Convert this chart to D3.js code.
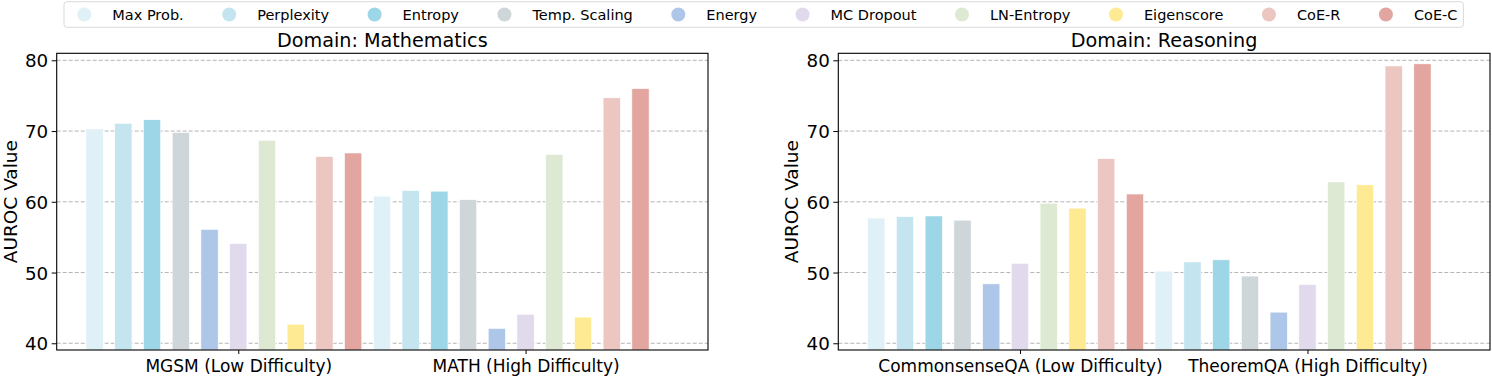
<!DOCTYPE html>
<html>
<head>
<meta charset="utf-8">
<script src="https://d3js.org/d3.v7.min.js"></script>
<style>
  body { margin: 0; background: #fff; }
  text { font-family: "DejaVu Sans", sans-serif; fill: #000; }
</style>
</head>
<body>
<script>
var W = 1492, H = 376;

var methods = ["Max Prob.", "Perplexity", "Entropy", "Temp. Scaling", "Energy",
               "MC Dropout", "LN-Entropy", "Eigenscore", "CoE-R", "CoE-C"];
var colors = ["#dff0f7", "#c4e5f0", "#9dd7e7", "#cfd6da", "#aec6e8",
              "#e1d9ec", "#dde9d3", "#fdea93", "#ecc6c0", "#e2a5a0"];

var mathDatasets = ["MGSM (Low Difficulty)", "MATH (High Difficulty)"];
var mathLow  = [70.3, 71.1, 71.6, 69.8, 56.1, 54.1, 68.7, 42.7, 66.4, 66.9];
var mathHigh = [60.8, 61.6, 61.5, 60.3, 42.1, 44.1, 66.7, 43.7, 74.7, 76.0];

var reasonDatasets = ["CommonsenseQA (Low Difficulty)", "TheoremQA (High Difficulty)"];
var reasonLow  = [57.7, 57.9, 58.0, 57.4, 48.4, 51.3, 59.8, 59.1, 66.1, 61.1];
var reasonHigh = [50.2, 51.5, 51.8, 49.5, 44.4, 48.3, 62.8, 62.4, 79.2, 79.5];

var yTicks = [40, 50, 60, 70, 80];

var panels = [
  {title: "Domain: Mathematics", datasets: mathDatasets, values: [mathLow, mathHigh], x0: 56.7, x1: 708},
  {title: "Domain: Reasoning", datasets: reasonDatasets, values: [reasonLow, reasonHigh], x0: 838.3, x1: 1490}
];

var plotTop = 53.3, plotBottom = 350;
var barStep = 0.1, barW = 0.06;

var svg = d3.select("body").append("svg")
  .attr("width", W).attr("height", H);

panels.forEach(function(p) {
  var g = svg.append("g");
  var x = d3.scaleLinear().domain([-0.632, 1.635]).range([p.x0, p.x1]);
  var y = d3.scaleLinear().domain([39.05, 80.99]).range([plotBottom, plotTop]);

  // grid
  g.selectAll(".grid").data(yTicks).enter().append("line")
    .attr("x1", p.x0).attr("x2", p.x1)
    .attr("y1", function(d){ return y(d); })
    .attr("y2", function(d){ return y(d); })
    .attr("stroke", "#b5b5b5").attr("stroke-width", 1)
    .attr("stroke-dasharray", "4,2");

  // bars
  p.values.forEach(function(vals, gi) {
    g.selectAll(".b" + gi).data(vals).enter().append("rect")
      .attr("x", function(d, j){ return x(gi + (j - 5) * barStep - barW / 2); })
      .attr("width", x(barW) - x(0))
      .attr("y", function(d){ return y(d); })
      .attr("height", function(d){ return plotBottom - y(d); })
      .attr("fill", function(d, j){ return colors[j]; })
      .attr("stroke", "#fff").attr("stroke-width", 0.6);
  });

  // frame
  g.append("rect")
    .attr("x", p.x0).attr("y", plotTop)
    .attr("width", p.x1 - p.x0).attr("height", plotBottom - plotTop)
    .attr("fill", "none").attr("stroke", "#000").attr("stroke-width", 1.1);

  // y axis
  var ya = g.append("g").attr("transform", "translate(" + p.x0 + ",0)")
    .call(d3.axisLeft(y).tickValues(yTicks).tickSize(5).tickPadding(3.5));
  ya.select(".domain").remove();
  ya.selectAll("text").style("font-size", "18.3px").attr("dy", "0.36em");
  ya.selectAll("line").attr("stroke", "#000");

  // x axis
  var xa = g.append("g").attr("transform", "translate(0," + plotBottom + ")")
    .call(d3.axisBottom(x).tickValues([0, 1]).tickSize(4).tickPadding(6)
      .tickFormat(function(d){ return p.datasets[d]; }));
  xa.select(".domain").remove();
  xa.selectAll("text").style("font-size", "17px");
  xa.selectAll("line").attr("stroke", "#000");

  // titles
  g.append("text")
    .attr("x", (p.x0 + p.x1) / 2).attr("y", 46.5)
    .attr("text-anchor", "middle").style("font-size", "19.2px")
    .text(p.title);

  g.append("text")
    .attr("transform", "translate(" + (p.x0 - 40) + "," + ((plotTop + plotBottom) / 2) + ") rotate(-90)")
    .attr("text-anchor", "middle").style("font-size", "18.5px")
    .text("AUROC Value");
});

// legend
var leg = svg.append("g");
var box = leg.append("rect")
  .attr("x", 64).attr("y", 1.7).attr("height", 25.6)
  .attr("rx", 3).attr("fill", "#fff")
  .attr("stroke", "#d9d9d9").attr("stroke-width", 1);
var cx = 84.3;
methods.forEach(function(m, i) {
  leg.append("circle").attr("cx", cx).attr("cy", 14.5).attr("r", 7)
    .attr("fill", colors[i]);
  var t = leg.append("text").attr("x", cx + 28).attr("y", 14.5)
    .attr("dy", "0.36em").style("font-size", "14.5px").text(m);
  var tw = t.node().getComputedTextLength();
  cx = cx + 28 + tw + 45.5;
  if (i === methods.length - 1) box.attr("width", cx - 45.5 + 6 - 64);
});
</script>
</body>
</html>
